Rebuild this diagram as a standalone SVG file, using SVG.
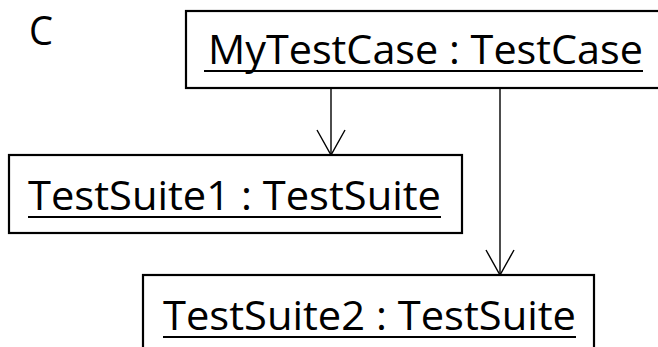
<svg xmlns="http://www.w3.org/2000/svg" width="658" height="347" viewBox="0 0 658 347">
  <style>
    .box { fill: #ffffff; stroke: #000000; stroke-width: 2.2; }
    .lbl { font-family: "Open Sans", "Noto Sans", "Liberation Sans", sans-serif; font-size: 41px; fill: #000000; }
    .ul { stroke: #000000; stroke-width: 2; }
    .conn { stroke: #000000; stroke-width: 1.4; fill: none; }
  </style>
  <defs>
    <marker id="open" markerUnits="userSpaceOnUse" viewBox="-27 -16 30 32" refX="0" refY="0" markerWidth="30" markerHeight="32" orient="auto">
      <path d="M -25 -14 L 0 0 L -25 14" fill="none" stroke="#000000" stroke-width="1.4"/>
    </marker>
  </defs>
  <rect width="658" height="347" fill="#ffffff"/>
  <text class="lbl" x="29" y="45" font-size="44" textLength="24" lengthAdjust="spacingAndGlyphs">C</text>

  <g id="connectors">
    <line class="conn" x1="331" y1="89" x2="331" y2="155" marker-end="url(#open)"/>
    <line class="conn" x1="500" y1="89" x2="500" y2="275" marker-end="url(#open)"/>
  </g>

  <g id="myTestCase">
    <rect class="box" x="186" y="11" width="490" height="77"/>
    <text class="lbl" x="208" y="64" textLength="435" lengthAdjust="spacingAndGlyphs">MyTestCase : TestCase</text>
    <line class="ul" x1="204" y1="71" x2="643" y2="71"/>
  </g>

  <g id="testSuite1">
    <rect class="box" x="9" y="155" width="453" height="78"/>
    <text class="lbl" x="28" y="210" textLength="413" lengthAdjust="spacingAndGlyphs">TestSuite1 : TestSuite</text>
    <line class="ul" x1="28" y1="217" x2="441" y2="217"/>
  </g>

  <g id="testSuite2">
    <rect class="box" x="143" y="275" width="451" height="90"/>
    <text class="lbl" x="163" y="330" textLength="413" lengthAdjust="spacingAndGlyphs">TestSuite2 : TestSuite</text>
    <line class="ul" x1="163" y1="337" x2="576" y2="337"/>
  </g>
</svg>
